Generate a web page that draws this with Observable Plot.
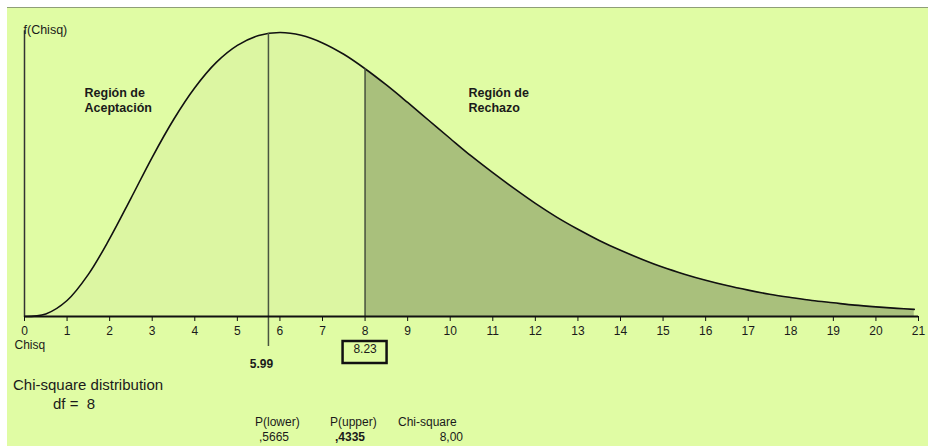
<!DOCTYPE html>
<html>
<head>
<meta charset="utf-8">
<script src="https://cdn.jsdelivr.net/npm/d3@7"></script>
<script src="https://cdn.jsdelivr.net/npm/@observablehq/plot@0.6"></script>
<style>
  html, body { margin: 0; padding: 0; background: #ffffff; }
  #wrap { position: relative; width: 931px; height: 447px; overflow: hidden; font-family: "Liberation Sans", Arial, sans-serif; color: #1a1a1a; }
  #panel { position: absolute; left: 7px; top: 7px; width: 921px; height: 438px; background: #e0fca4; border-top: 1px solid #8f9e78; }
  #chart { position: absolute; left: 0; top: 0; }
  .lbl { position: absolute; white-space: pre; line-height: 1; }
</style>
</head>
<body>
<div id="wrap">
  <div id="panel"></div>
  <div id="chart"></div>
</div>
<script>
// Chi-square density, df = 8
const chiX = [0, 0.5, 1, 1.5, 2, 2.5, 3, 3.5, 4, 4.5, 5, 5.5, 6, 6.5, 7, 7.5, 8, 8.5, 9, 9.5, 10, 10.5, 11, 11.5, 12, 12.5, 13, 13.5, 14, 14.5, 15, 15.5, 16, 16.5, 17, 17.5, 18, 18.5, 19, 19.5, 20, 20.5, 20.9];
const chiF = [0, 0.0010, 0.0063, 0.0166, 0.0307, 0.0466, 0.0628, 0.0776, 0.0902, 0.1001, 0.1069, 0.1108, 0.1120, 0.1109, 0.1079, 0.1034, 0.0977, 0.0913, 0.0844, 0.0773, 0.0702, 0.0632, 0.0567, 0.0505, 0.0446, 0.0392, 0.0344, 0.0300, 0.0261, 0.0226, 0.0194, 0.0167, 0.0143, 0.0122, 0.0104, 0.0088, 0.0075, 0.0063, 0.0054, 0.0045, 0.0038, 0.0032, 0.0028];
const xTicks = [0, 1, 2, 3, 4, 5, 6, 7, 8, 9, 10, 11, 12, 13, 14, 15, 16, 17, 18, 19, 20, 21];
const critLine = { x: 5.73, top: 0.1116, label: "5.99" };
const statLine = { x: 8, top: 0.0977, label: "8.23" };
const yAxisTop = 0.1127;
const regionLabels = [
  { x: 1.41, y: 0.0856, text: "Región de\nAceptación" },
  { x: 10.43, y: 0.0856, text: "Región de\nRechazo" }
];
const summaryHeads = ["P(lower)", "P(upper)", "Chi-square"];
const summaryVals = [",5665", ",4335", "8,00"];
const distTitle = "Chi-square distribution";
const distDf = "df =  8";

const pts = chiX.map((x, i) => ({ x, f: chiF[i] }));
const accept = pts.filter(d => d.x <= statLine.x);
const reject = pts.filter(d => d.x >= statLine.x);

const font = "Liberation Sans, Arial, sans-serif";

const plot = Plot.plot({
  width: 931,
  height: 447,
  marginLeft: 24,
  marginRight: 13,
  marginTop: 32,
  marginBottom: 131,
  style: { background: "transparent", fontFamily: font, fontSize: "12px", color: "#111", overflow: "visible" },
  x: { domain: [0, 21], ticks: xTicks, tickSize: 5, tickPadding: 5, label: null, tickFormat: d => String(d) },
  y: { domain: [0, 0.1120], axis: null },
  marks: [
    Plot.areaY(accept, { x: "x", y: "f", fill: "#dcf6a2", curve: "catmull-rom" }),
    Plot.areaY(reject, { x: "x", y: "f", fill: "#a9c07c", curve: "catmull-rom" }),
    Plot.lineY(pts, { x: "x", y: "f", stroke: "#111", strokeWidth: 1.6, curve: "catmull-rom" }),
    Plot.ruleX([critLine], { x: "x", y1: "top", y2: () => 0, stroke: "#4a5540", strokeWidth: 1.5, insetBottom: -30 }),
    Plot.ruleX([statLine], { x: "x", y1: "top", y2: () => 0, stroke: "#4a5540", strokeWidth: 1.5 }),
    Plot.ruleX([0], { y1: yAxisTop, y2: 0, stroke: "#333", strokeWidth: 1.5 }),
    Plot.ruleY([0], { x1: 0, x2: 21, stroke: "#111", strokeWidth: 2 }),
    Plot.text(["f(Chisq)"], { x: () => 0, frameAnchor: "top", textAnchor: "start", dx: -1, dy: -7, fontSize: 12.5, fill: "#1a1a1a" }),
    Plot.text(["Chisq"], { x: () => 0, frameAnchor: "bottom", textAnchor: "start", dx: -10, dy: 32, fontSize: 12, fill: "#1a1a1a" }),
    Plot.text(regionLabels, { x: "x", y: "y", text: "text", textAnchor: "start", lineHeight: 1.22, fontSize: 12.5, fontWeight: "bold", fill: "#1a1a1a" }),
    Plot.text([critLine], { x: "x", text: "label", frameAnchor: "bottom", dx: -7, dy: 51, fontSize: 12, fontWeight: "bold", fill: "#1a1a1a" }),
    Plot.text([statLine], { x: "x", text: "label", frameAnchor: "bottom", dy: 36, fontSize: 12, fill: "#1a1a1a" })
  ]
});
document.getElementById("chart").appendChild(plot);

// enlarge the x tick labels to match the reference
const tickStrings = new Set(xTicks.map(String));
d3.select(plot).selectAll("g[aria-label*='axis']").attr("font-size", 12).style("font-size", "12px");
d3.select(plot).selectAll("g[aria-label*='axis'] text").style("font-size", "12px").attr("fill", "#1a1a1a");

// box around the statistic label, positioned with the plot's x scale
const sx = plot.scale("x");
const cx = sx.apply(statLine.x);
d3.select(plot).append("rect")
  .attr("x", cx - 22).attr("y", 341).attr("width", 44).attr("height", 22)
  .attr("fill", "none").attr("stroke", "#111").attr("stroke-width", 2.5);

// bottom summary text
const wrap = document.getElementById("wrap");
function addLabel(text, left, top, size, weight, align) {
  const d = document.createElement("div");
  d.className = "lbl";
  d.textContent = text;
  d.style.fontSize = size + "px";
  d.style.fontWeight = weight || "normal";
  if (align === "right") { d.style.right = (931 - left) + "px"; } else { d.style.left = left + "px"; }
  d.style.top = top + "px";
  wrap.appendChild(d);
}
addLabel(distTitle, 13, 377, 15);
addLabel(distDf, 53, 396, 15);
addLabel(summaryHeads[0], 255, 416, 12);
addLabel(summaryHeads[1], 330, 416, 12);
addLabel(summaryHeads[2], 398, 416, 12);
addLabel(summaryVals[0], 259, 431, 12);
addLabel(summaryVals[1], 335, 431, 12, "bold");
addLabel(summaryVals[2], 463, 431, 12, "normal", "right");
</script>
</body>
</html>
